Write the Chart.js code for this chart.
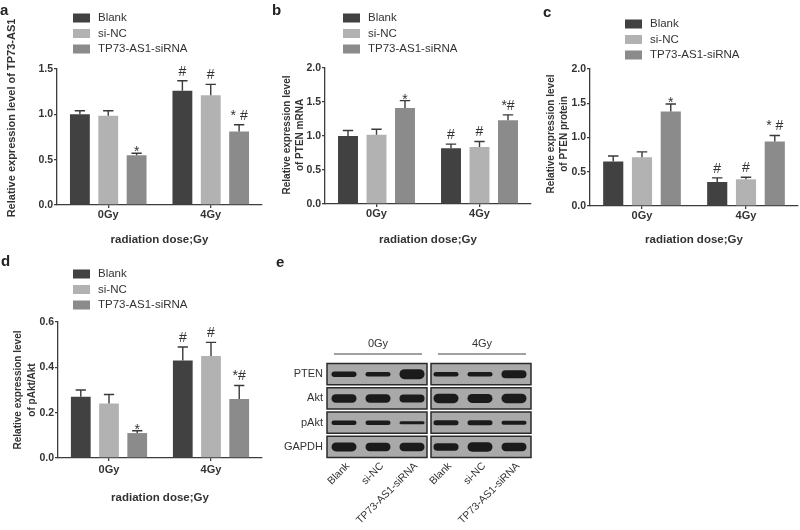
<!DOCTYPE html>
<html>
<head>
<meta charset="utf-8">
<script src="https://cdn.jsdelivr.net/npm/chart.js@4"></script>
<style>
  body { margin: 0; background: #fff; overflow: hidden; }
  #wrap { position: relative; width: 800px; height: 530px; }
  canvas { position: absolute; }
  .tag { position: absolute; font: bold 15px "Liberation Sans", Arial, sans-serif; line-height: 1; color: #222; }
</style>
</head>
<body>
<div id="wrap">
  <canvas id="chartA" width="268" height="252" style="left:0;top:0"></canvas>
  <canvas id="chartB" width="268" height="252" style="left:268px;top:0"></canvas>
  <canvas id="chartC" width="264" height="252" style="left:536px;top:0"></canvas>
  <canvas id="chartD" width="268" height="270" style="left:0;top:260px"></canvas>
  <canvas id="blot" width="290" height="240" style="left:268px;top:290px"></canvas>
  <div class="tag" style="left:0;top:2px">a</div>
  <div class="tag" style="left:272px;top:2px">b</div>
  <div class="tag" style="left:543px;top:4px">c</div>
  <div class="tag" style="left:1px;top:253px">d</div>
  <div class="tag" style="left:276px;top:254px">e</div>
</div>
<script>
// groups and series
const doseLabels = ['0Gy', '4Gy'];
const seriesNames = ['Blank', 'si-NC', 'TP73-AS1-siRNA'];

// a - TP73-AS1
const tp73Blank = [1.00, 1.26];
const tp73SiNC = [0.985, 1.21];
const tp73SiRNA = [0.55, 0.81];
const tp73BlankErr = [0.04, 0.11];
const tp73SiNCErr = [0.055, 0.12];
const tp73SiRNAErr = [0.02, 0.075];
const tp73Marks = [['', '#'], ['', '#'], ['*', '* #']];

// b - PTEN mRNA
const ptenMrnaBlank = [1.00, 0.82];
const ptenMrnaSiNC = [1.02, 0.84];
const ptenMrnaSiRNA = [1.41, 1.23];
const ptenMrnaBlankErr = [0.08, 0.06];
const ptenMrnaSiNCErr = [0.08, 0.08];
const ptenMrnaSiRNAErr = [0.11, 0.08];
const ptenMrnaMarks = [['', '#'], ['', '#'], ['*', '*#']];

// c - PTEN protein
const ptenProtBlank = [0.65, 0.35];
const ptenProtSiNC = [0.71, 0.39];
const ptenProtSiRNA = [1.38, 0.94];
const ptenProtBlankErr = [0.08, 0.06];
const ptenProtSiNCErr = [0.08, 0.03];
const ptenProtSiRNAErr = [0.11, 0.09];
const ptenProtMarks = [['', '#'], ['', '#'], ['*', '* #']];

// d - pAkt/Akt
const pAktBlank = [0.27, 0.43];
const pAktSiNC = [0.24, 0.45];
const pAktSiRNA = [0.11, 0.26];
const pAktBlankErr = [0.03, 0.06];
const pAktSiNCErr = [0.04, 0.06];
const pAktSiRNAErr = [0.01, 0.06];
const pAktMarks = [['', '#'], ['', '#'], ['*', '*#']];

// e - western blot (band strength per lane)
const blotDoses = ['0Gy', '4Gy'];
const blotLanes = ['Blank', 'si-NC', 'TP73-AS1-siRNA', 'Blank', 'si-NC', 'TP73-AS1-siRNA'];
const blotProteins = ['PTEN', 'Akt', 'pAkt', 'GAPDH'];
const bandPTEN = [0.55, 0.45, 1.0, 0.45, 0.45, 0.8];
const bandAkt = [0.85, 0.85, 0.8, 0.95, 0.9, 0.95];
const bandPAkt = [0.45, 0.45, 0.3, 0.5, 0.5, 0.4];
const bandGAPDH = [0.9, 0.85, 0.85, 0.75, 0.95, 0.85];

const seriesColors = ['#414141', '#b2b2b2', '#8b8b8b'];
const textColor = '#333';
const axisColor = '#3c3c3c';
const FONT = '"Liberation Sans", Arial, sans-serif';
Chart.defaults.font.family = FONT;

// error bars + significance marks
const errorBarPlugin = {
  id: 'errorBars',
  afterDatasetsDraw(chart) {
    const { ctx } = chart;
    const y = chart.scales.y;
    ctx.save();
    chart.data.datasets.forEach((ds, di) => {
      chart.getDatasetMeta(di).data.forEach((bar, i) => {
        const top = y.getPixelForValue(ds.data[i] + ds.err[i]);
        const half = bar.width * 0.26;
        ctx.strokeStyle = '#3a3a3a';
        ctx.lineWidth = 1.4;
        ctx.beginPath();
        ctx.moveTo(bar.x, bar.y);
        ctx.lineTo(bar.x, top);
        ctx.moveTo(bar.x - half, top);
        ctx.lineTo(bar.x + half, top);
        ctx.stroke();
        const mark = ds.marks[i];
        if (mark) {
          ctx.fillStyle = textColor;
          ctx.font = '14px ' + FONT;
          ctx.textAlign = 'center';
          ctx.textBaseline = 'alphabetic';
          ctx.fillText(mark, bar.x, mark === '*' ? top + 3 : top - 5);
        }
      });
    });
    ctx.restore();
  }
};

// legend stacked in one column
const stackLegendPlugin = {
  id: 'stackLegend',
  afterDraw(chart, args, opts) {
    const { ctx } = chart;
    ctx.save();
    ctx.font = '11.5px ' + FONT;
    ctx.textBaseline = 'middle';
    ctx.textAlign = 'left';
    chart.data.datasets.forEach((ds, i) => {
      const cy = opts.y + i * 15.5;
      ctx.fillStyle = ds.backgroundColor;
      ctx.fillRect(opts.x, cy - 4.5, 17, 9);
      ctx.fillStyle = textColor;
      ctx.fillText(ds.label, opts.x + 25, cy);
    });
    ctx.restore();
  }
};

// rotated y title
const yTitlePlugin = {
  id: 'yTitle',
  afterDraw(chart, args, opts) {
    const { ctx } = chart;
    ctx.save();
    ctx.font = 'bold ' + opts.size + 'px ' + FONT;
    ctx.fillStyle = textColor;
    ctx.textAlign = 'center';
    ctx.textBaseline = 'middle';
    opts.lines.forEach((line, i) => {
      ctx.save();
      ctx.translate(opts.x[i], opts.cy);
      ctx.rotate(-Math.PI / 2);
      ctx.fillText(line, 0, 0);
      ctx.restore();
    });
    ctx.restore();
  }
};

function makeBarChart(id, cfg) {
  const ctx = document.getElementById(id).getContext('2d');
  return new Chart(ctx, {
    type: 'bar',
    data: {
      labels: doseLabels,
      datasets: seriesNames.map((name, i) => ({
        label: name,
        data: cfg.values[i],
        err: cfg.errors[i],
        marks: cfg.marks[i],
        backgroundColor: seriesColors[i],
        borderWidth: 0,
        categoryPercentage: 0.83,
        barPercentage: 0.7
      }))
    },
    options: {
      responsive: false,
      animation: false,
      layout: { padding: cfg.padding },
      plugins: {
        legend: { display: false },
        tooltip: { enabled: false },
        stackLegend: cfg.legend,
        yTitle: cfg.yTitle
      },
      scales: {
        x: {
          grid: { drawOnChartArea: false, offset: false, tickLength: 3, color: axisColor, lineWidth: 1.3 },
          border: { color: axisColor, width: 1.3 },
          ticks: { color: textColor, font: { weight: 'bold', size: 11 }, padding: cfg.xTickPad },
          title: { display: true, text: 'radiation dose;Gy', color: textColor, font: { weight: 'bold', size: 11.5 }, padding: 0 },
          afterFit: s => { s.height = cfg.xHeight; }
        },
        y: {
          min: 0,
          max: cfg.yMax,
          grid: { drawOnChartArea: false, tickLength: 3, color: axisColor, lineWidth: 1.3 },
          border: { color: axisColor, width: 1.3 },
          ticks: { stepSize: cfg.yStep, color: textColor, font: { weight: 'bold', size: 10.5 }, padding: 1, callback: v => v.toFixed(1) },
          afterFit: s => { s.width = cfg.yWidth; }
        }
      }
    },
    plugins: [errorBarPlugin, stackLegendPlugin, yTitlePlugin]
  });
}

makeBarChart('chartA', {
  values: [tp73Blank, tp73SiNC, tp73SiRNA],
  errors: [tp73BlankErr, tp73SiNCErr, tp73SiRNAErr],
  marks: tp73Marks,
  yMax: 1.5, yStep: 0.5,
  padding: { left: 0, top: 69, right: 6, bottom: 5 },
  yWidth: 57, xHeight: 42, xTickPad: 0,
  legend: { x: 73, y: 18 },
  yTitle: { lines: ['Relative expression level of TP73-AS1'], x: [12], cy: 118, size: 11 }
});

makeBarChart('chartB', {
  values: [ptenMrnaBlank, ptenMrnaSiNC, ptenMrnaSiRNA],
  errors: [ptenMrnaBlankErr, ptenMrnaSiNCErr, ptenMrnaSiRNAErr],
  marks: ptenMrnaMarks,
  yMax: 2, yStep: 0.5,
  padding: { left: 0, top: 68, right: 5, bottom: 5 },
  yWidth: 57, xHeight: 43, xTickPad: 0,
  legend: { x: 75, y: 18 },
  yTitle: { lines: ['Relative expression level', 'of PTEN mRNA'], x: [19.5, 32.5], cy: 135, size: 10 }
});

makeBarChart('chartC', {
  values: [ptenProtBlank, ptenProtSiNC, ptenProtSiRNA],
  errors: [ptenProtBlankErr, ptenProtSiNCErr, ptenProtSiRNAErr],
  marks: ptenProtMarks,
  yMax: 2, yStep: 0.5,
  padding: { left: 0, top: 69, right: 2, bottom: 5 },
  yWidth: 54, xHeight: 41, xTickPad: 0,
  legend: { x: 89, y: 24 },
  yTitle: { lines: ['Relative expression level', 'of PTEN protein'], x: [15, 28.5], cy: 134, size: 10 }
});

makeBarChart('chartD', {
  values: [pAktBlank, pAktSiNC, pAktSiRNA],
  errors: [pAktBlankErr, pAktSiNCErr, pAktSiRNAErr],
  marks: pAktMarks,
  yMax: 0.6, yStep: 0.2,
  padding: { left: 0, top: 62, right: 6, bottom: 25 },
  yWidth: 58, xHeight: 47, xTickPad: 2,
  legend: { x: 73, y: 14 },
  yTitle: { lines: ['Relative expression level', 'of pAkt/Akt'], x: [18, 32], cy: 130, size: 10 }
});

// western blot: boxes, bands and dose headers drawn on the category scales
const blotBands = [bandPTEN, bandAkt, bandPAkt, bandGAPDH];
const blotPlugin = {
  id: 'blot',
  afterDraw(chart) {
    const { ctx, chartArea } = chart;
    const x = chart.scales.x, y = chart.scales.y;
    const laneW = x.getPixelForValue(1) - x.getPixelForValue(0);
    const rowH = y.getPixelForValue(1) - y.getPixelForValue(0);
    ctx.save();
    blotDoses.forEach((dose, d) => {
      const left = x.getPixelForValue(d * 3) - laneW / 2 + (d ? 2 : 0);
      const right = x.getPixelForValue(d * 3 + 2) + laneW / 2 - (d ? 0 : 2);
      // header line + label
      ctx.strokeStyle = '#444';
      ctx.lineWidth = 1.2;
      ctx.beginPath();
      ctx.moveTo(left + 7, chartArea.top - 8);
      ctx.lineTo(right - 5, chartArea.top - 8);
      ctx.stroke();
      ctx.fillStyle = textColor;
      ctx.font = '11px ' + FONT;
      ctx.textAlign = 'center';
      ctx.textBaseline = 'middle';
      ctx.fillText(dose, (left + right) / 2 + 1, chartArea.top - 18);

      blotProteins.forEach((p, r) => {
        const cy = y.getPixelForValue(r);
        const top = cy - rowH / 2 + 1.5, h = rowH - 3;
        ctx.fillStyle = '#a9a9a9';
        ctx.fillRect(left, top, right - left, h);
        ctx.strokeStyle = '#2b2b2b';
        ctx.lineWidth = 1.5;
        ctx.strokeRect(left, top, right - left, h);
        for (let k = 0; k < 3; k++) {
          const lane = d * 3 + k;
          const bx = x.getPixelForValue(lane);
          const bh = blotBands[r][lane] * 10;
          ctx.save();
          ctx.filter = 'blur(0.7px)';
          ctx.fillStyle = '#1b1b1b';
          ctx.beginPath();
          ctx.roundRect(bx - 12.5, cy - bh / 2, 25, bh, bh / 2);
          ctx.fill();
          ctx.restore();
        }
      });
    });
    ctx.restore();
  }
};

new Chart(document.getElementById('blot').getContext('2d'), {
  type: 'bar',
  data: { labels: blotLanes, datasets: [] },
  options: {
    responsive: false,
    animation: false,
    layout: { padding: { left: 0, top: 72, right: 27, bottom: 0 } },
    plugins: { legend: { display: false }, tooltip: { enabled: false } },
    scales: {
      x: {
        type: 'category',
        offset: true,
        grid: { display: false, drawTicks: false },
        border: { display: false },
        ticks: { color: textColor, font: { size: 10.5 }, minRotation: 45, maxRotation: 45, autoSkip: false, padding: 1, labelOffset: 4 },
        afterFit: s => { s.height = 71; }
      },
      y: {
        type: 'category',
        labels: blotProteins,
        offset: true,
        grid: { display: false, drawTicks: false },
        border: { display: false },
        ticks: { color: textColor, font: { size: 11 }, padding: 4 },
        afterFit: s => { s.width = 59; }
      }
    }
  },
  plugins: [blotPlugin]
});
</script>
</body>
</html>
